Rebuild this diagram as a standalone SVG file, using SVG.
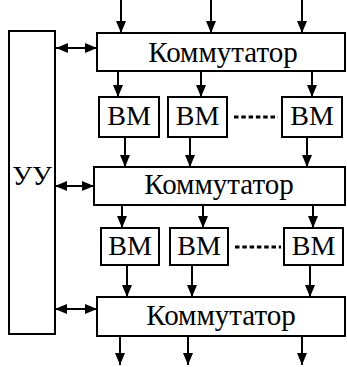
<svg xmlns="http://www.w3.org/2000/svg" width="347" height="367" viewBox="0 0 347 367">
<style>
.box{fill:#fff;stroke:#000;stroke-width:2}
.c{stroke:#000;stroke-width:2;fill:none}
.a{marker-end:url(#ah)}
.d{marker-start:url(#ahs);marker-end:url(#ah)}
.dots{stroke:#000;stroke-width:3;stroke-dasharray:4.5 2.8;fill:none}
.k{font-size:29px}
</style>
<defs>
<marker id="ah" markerUnits="userSpaceOnUse" markerWidth="12" markerHeight="12" viewBox="0 0 12 12" refX="12" refY="6" orient="auto">
<path d="M0,1 L12,6 L0,11 Z" fill="#000"/>
</marker>
<marker id="ahs" markerUnits="userSpaceOnUse" markerWidth="12" markerHeight="12" viewBox="0 0 12 12" refX="0" refY="6" orient="auto">
<path d="M12,1 L0,6 L12,11 Z" fill="#000"/>
</marker>
</defs>
<g id="connectors">
<line class="c a" x1="121" y1="0" x2="121" y2="33"/>
<line class="c a" x1="211" y1="0" x2="211" y2="33"/>
<line class="c a" x1="302" y1="0" x2="302" y2="33"/>
<line class="c a" x1="118" y1="71" x2="118" y2="97"/>
<line class="c a" x1="201" y1="71" x2="201" y2="97"/>
<line class="c a" x1="312" y1="71" x2="312" y2="97"/>
<line class="c a" x1="125" y1="137" x2="125" y2="167"/>
<line class="c a" x1="190" y1="137" x2="190" y2="167"/>
<line class="c a" x1="307" y1="137" x2="307" y2="167"/>
<line class="c a" x1="122" y1="205" x2="122" y2="228"/>
<line class="c a" x1="203" y1="205" x2="203" y2="228"/>
<line class="c a" x1="313" y1="205" x2="313" y2="228"/>
<line class="c a" x1="127" y1="265" x2="127" y2="297"/>
<line class="c a" x1="192" y1="265" x2="192" y2="297"/>
<line class="c a" x1="310" y1="265" x2="310" y2="297"/>
<line class="c a" x1="120" y1="336" x2="120" y2="365"/>
<line class="c a" x1="188" y1="336" x2="188" y2="365"/>
<line class="c a" x1="302" y1="336" x2="302" y2="365"/>
<line class="c d" x1="56" y1="48" x2="97" y2="48"/>
<line class="c d" x1="55" y1="186" x2="94" y2="186"/>
<line class="c d" x1="55" y1="309" x2="97" y2="309"/>
<line class="dots" x1="234" y1="117" x2="278" y2="117"/>
<line class="dots" x1="235" y1="247" x2="281" y2="247"/>
</g>
<g font-family="Liberation Serif, serif" font-size="28" text-anchor="middle" fill="#000">
<g id="uu">
<rect class="box" x="9" y="31" width="46" height="303"/>
<text x="32" y="185">УУ</text>
</g>
<g id="komm1">
<rect class="box" x="97" y="33" width="248" height="38"/>
<text class="k" x="223" y="62">Коммутатор</text>
</g>
<g id="komm2">
<rect class="box" x="94" y="167" width="251" height="38"/>
<text class="k" x="219" y="194">Коммутатор</text>
</g>
<g id="komm3">
<rect class="box" x="97" y="297" width="248" height="39"/>
<text class="k" x="221" y="325">Коммутатор</text>
</g>
<g id="bm11"><rect class="box" x="99" y="97" width="60" height="40"/><text x="129" y="125">ВМ</text></g>
<g id="bm12"><rect class="box" x="168" y="97" width="59" height="40"/><text x="197.5" y="125">ВМ</text></g>
<g id="bm13"><rect class="box" x="282" y="97" width="60" height="40"/><text x="312" y="125">ВМ</text></g>
<g id="bm21"><rect class="box" x="101" y="228" width="58" height="37"/><text x="130" y="255">ВМ</text></g>
<g id="bm22"><rect class="box" x="170" y="228" width="58" height="37"/><text x="199" y="255">ВМ</text></g>
<g id="bm23"><rect class="box" x="284" y="228" width="59" height="37"/><text x="313.5" y="255">ВМ</text></g>
</g>
</svg>
